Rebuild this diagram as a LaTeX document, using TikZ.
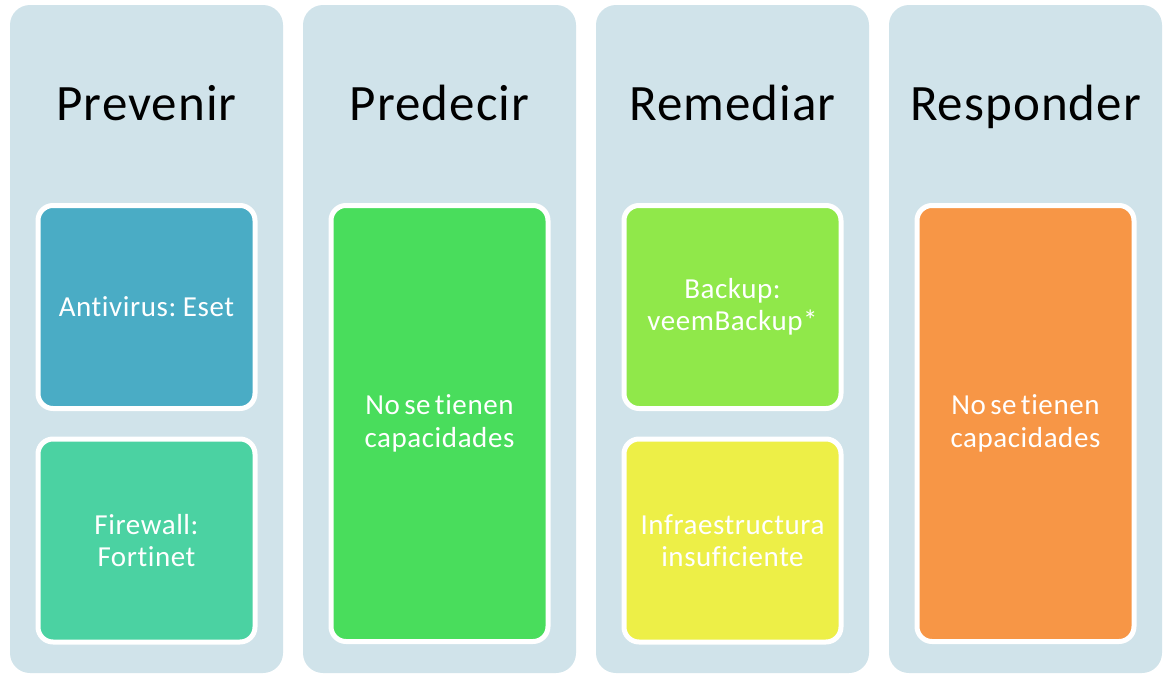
\documentclass[tikz,border=0pt]{standalone}
\usepackage{fontspec}
\setmainfont{Carlito}[Ligatures={NoCommon}, LetterSpace=2, WordSpace=0.6]
\definecolor{colbg}{HTML}{D0E3EA}
\definecolor{cAnti}{HTML}{4AACC5}
\definecolor{cFire}{HTML}{4BD2A2}
\definecolor{cPred}{HTML}{49DD5C}
\definecolor{cBack}{HTML}{90E84A}
\definecolor{cInfra}{HTML}{EDEF47}
\definecolor{cResp}{HTML}{F79646}
\begin{document}
\begin{tikzpicture}[x=1pt,y=-1pt,
  column/.style={fill=colbg, draw=none, rounded corners=20pt, minimum width=273pt, minimum height=668pt, inner sep=0pt},
  title/.style={anchor=base, font=\fontsize{51}{56}\selectfont, text=black, inner sep=0pt},
  item/.style={draw=white, line width=5pt, rounded corners=15pt, minimum width=217pt, text=white, align=center, inner sep=0pt, font=\fontsize{29}{32.5}\selectfont},
  short/.style={item, minimum height=203pt},
  tall/.style={item, minimum height=436pt}]
\useasboundingbox (0,0) rectangle (1168,673);
\node[column] (c1) at (146.5,339) {};
\node[column] (c2) at (439.5,339) {};
\node[column] (c3) at (732.5,339) {};
\node[column] (c4) at (1025.5,339) {};
\node[title] (t1) at (146.5,120) {Prevenir};
\node[title] (t2) at (439.5,120) {Predecir};
\node[title] (t3) at (732.5,120) {Remediar};
\node[title] (t4) at (1025.5,120) {Responder};
\node[short, fill=cAnti] (b1) at (146.5,307) {Antivirus: Eset};
\node[short, fill=cFire] (b2) at (146.5,540.5) {Firewall:\\Fortinet};
\node[tall, fill=cPred] (b3) at (439.5,423.5) {No se tienen\\capacidades};
\node[short, fill=cBack] (b4) at (732.5,307) {Backup:\\veemBackup*};
\node[short, fill=cInfra] (b5) at (732.5,540.5) {Infraestructura\\insuficiente};
\node[tall, fill=cResp] (b6) at (1025.5,423.5) {No se tienen\\capacidades};
\end{tikzpicture}
\end{document}
